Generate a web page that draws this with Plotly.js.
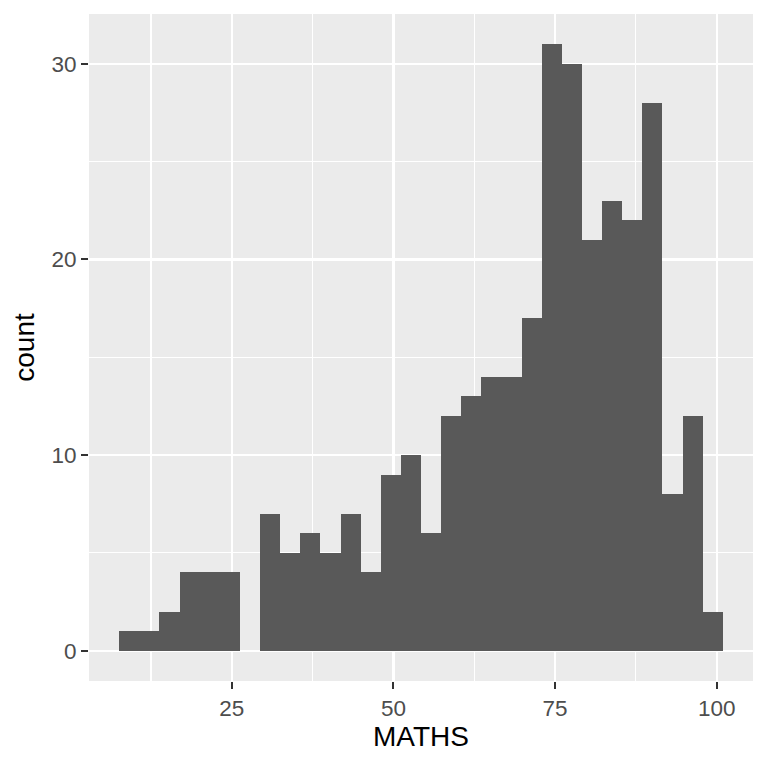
<!DOCTYPE html>
<html>
<head>
<meta charset="utf-8">
<script src="https://cdn.plot.ly/plotly-3.0.1.min.js"></script>
<style>html,body{margin:0;padding:0;background:#fff;}#chart{width:768px;height:768px;}</style>
</head>
<body>
<div id="chart"></div>
<script>
// Histogram of MATHS scores, 30 bins
const binStart = 7.58;
const binWidth = 3.112;
const counts = [1, 1, 2, 4, 4, 4, 0, 7, 5, 6, 5, 7, 4, 9, 10, 6, 12, 13, 14, 14, 17, 31, 30, 21, 23, 22, 28, 8, 12, 2];
const xTickVals = [25, 50, 75, 100];
const xTickText = ['25', '50', '75', '100'];
const yTickVals = [0, 10, 20, 30];
const yTickText = ['0', '10', '20', '30'];

const centers = counts.map((c, i) => binStart + binWidth * (i + 0.5));
const binEnd = binStart + binWidth * counts.length;
const xPad = (binEnd - binStart) * 0.05;
const yMax = Math.max(...counts);
const yPad = yMax * 0.05;

const trace = {
  type: 'bar',
  x: centers,
  y: counts,
  width: counts.map(() => binWidth),
  marker: {color: '#595959', line: {width: 0}},
  hoverinfo: 'x+y'
};

const tickFont = {family: 'Liberation Sans, Arial, sans-serif', size: 22.5, color: '#4D4D4D'};
const titleFont = {family: 'Liberation Sans, Arial, sans-serif', size: 28, color: '#000000'};

const layout = {
  width: 768, height: 768,
  margin: {l: 89, r: 15, t: 14, b: 87},
  paper_bgcolor: '#FFFFFF',
  plot_bgcolor: '#EBEBEB',
  bargap: 0,
  showlegend: false,
  xaxis: {
    range: [binStart - xPad, binEnd + xPad],
    tickvals: xTickVals, ticktext: xTickText,
    ticks: 'outside', ticklen: 7, tickwidth: 2, tickcolor: '#333333',
    tickfont: tickFont,
    showgrid: true, gridcolor: '#FFFFFF', gridwidth: 2.1,
    minor: {showgrid: true, gridcolor: '#FFFFFF', gridwidth: 1.07, tick0: 0, dtick: 12.5},
    zeroline: false, showline: false,
    title: {text: 'MATHS', font: titleFont, standoff: 6}
  },
  yaxis: {
    range: [-yPad, yMax + yPad],
    tickvals: yTickVals, ticktext: yTickText,
    ticks: 'outside', ticklen: 7, tickwidth: 2, tickcolor: '#333333',
    tickfont: tickFont,
    showgrid: true, gridcolor: '#FFFFFF', gridwidth: 2.1,
    minor: {showgrid: true, gridcolor: '#FFFFFF', gridwidth: 1.07, tick0: 0, dtick: 5},
    zeroline: false, showline: false,
    title: {text: 'count', font: titleFont, standoff: 8}
  }
};

Plotly.newPlot('chart', [trace], layout, {staticPlot: true, displayModeBar: false});
</script>
</body>
</html>
